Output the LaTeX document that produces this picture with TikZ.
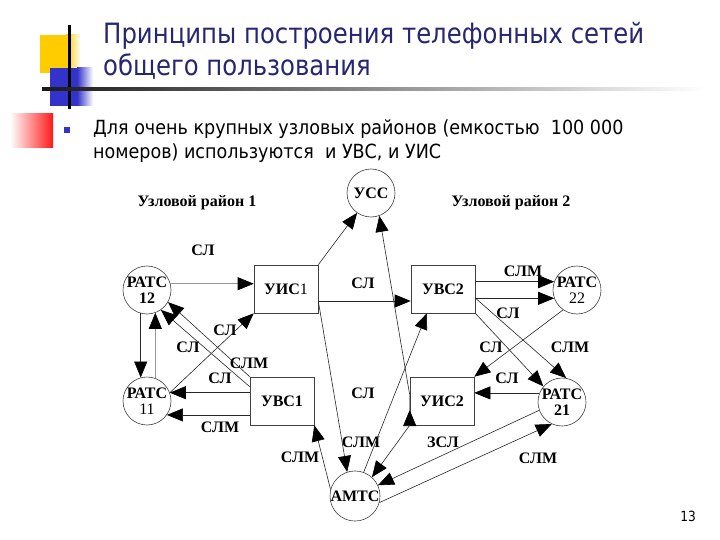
\documentclass[tikz,border=0pt]{standalone}
\usepackage{fontspec}
\setmainfont{Liberation Serif}
\newfontfamily\slidefont[FakeStretch=0.87]{DejaVu Sans}
\newfontfamily\bulletfont[FakeStretch=0.9]{DejaVu Sans}
\usetikzlibrary{calc,positioning,arrows.meta}
\definecolor{titleblue}{RGB}{38,38,115}
\definecolor{decoyellow}{RGB}{255,204,0}
\definecolor{decoblue}{RGB}{51,51,204}
\definecolor{decored}{RGB}{255,25,25}
\definecolor{linkgray}{RGB}{150,150,150}

\begin{document}
\begin{tikzpicture}[x=1pt, y=-1pt,
  stn/.style={draw=black!75, line width=0.6pt, minimum width=64pt, minimum height=48pt,
    inner sep=0pt, font=\fontsize{16}{18}\selectfont\bfseries},
  ats/.style={circle, draw=black!75, line width=0.6pt, minimum size=48pt, inner sep=0pt,
    align=center, font=\fontsize{16}{16}\selectfont\bfseries},
  lbl/.style={font=\fontsize{16}{18}\selectfont\bfseries, inner sep=0pt},
  link/.style={line width=0.6pt, draw=black!85, -{Triangle[length=16pt,width=13pt,color=black]}},
  faint/.style={link, draw=linkgray},
]
\useasboundingbox (0,0) rectangle (720,540);

% slide decoration
\fill[decoyellow] (40,35) rectangle (66,73);
\shade[left color=decoyellow, right color=decoyellow!5] (66,35) rectangle (80,73);
\fill[decoblue] (50,68) rectangle (77,106);
\shade[left color=decoblue, right color=white] (77,68) rectangle (93,106);
\shade[left color=white, right color=decored] (10,114) rectangle (53,148);
\fill[black] (67.5,25) rectangle (70.5,109);
\shade[left color=black!90, right color=white] (42,87.5) rectangle (705,90.5);

% title and bullet text
\node[anchor=base west, inner sep=0pt, text=titleblue, font=\slidefont\fontsize{28}{34}\selectfont]
  (title1) at (103,44) {Принципы построения телефонных сетей};
\node[anchor=base west, inner sep=0pt, text=titleblue, font=\slidefont\fontsize{28}{34}\selectfont]
  (title2) at (103,76) {общего пользования};
\fill[decoblue] (64,127) rectangle (70,133);
\node[anchor=base west, inner sep=0pt, font=\bulletfont\fontsize{19.5}{24}\selectfont]
  (txt1) at (93,135) {Для очень крупных узловых районов (емкостью\ \ 100 000};
\node[anchor=base west, inner sep=0pt, font=\bulletfont\fontsize{19.5}{24}\selectfont]
  (txt2) at (93,159) {номеров) используются\ \ и УВС, и УИС};
\node[anchor=base, inner sep=0pt, font=\slidefont\fontsize{14}{16}\selectfont]
  (pgnum) at (688,521) {13};

% exchanges
\node[ats] (ucc) at (371,193) {УСС};
\node[ats] (r12) at (147,290) {РАТС\\12};
\node[ats] (r11) at (147,401) {РАТС\\\textmd{11}};
\node[ats] (r22) at (577,290) {РАТС\\\textmd{22}};
\node[ats] (r21) at (562,402) {РАТС\\21};
\node[ats] (amtc) at (355,496) {АМТС};
\node[stn] (uis1) at (286,289) {УИС\textmd{1}};
\node[stn] (uvs2) at (443,289) {УВС2};
\node[stn] (uvs1) at (282,401) {УВС1};
\node[stn] (uis2) at (442,401) {УИС2};

\node[lbl] (zone1) at (197,203) {Узловой район 1};
\node[lbl] (zone2) at (511,203) {Узловой район 2};

% trunk labels
\foreach \x/\y/\t [count=\i] in {203/250/СЛ, 363/283/СЛ, 523/271/СЛМ, 508/313/СЛ,
  225/330/СЛ, 188/347/СЛ, 249/363/СЛМ, 220/378/СЛ, 491/347/СЛ, 570/347/СЛМ,
  507/378/СЛ, 363/393/СЛ, 220/427/СЛМ, 361/442/СЛМ, 443/442/ЗСЛ, 300/457/СЛМ,
  538/458/СЛМ}
  \node[lbl] (trunk\i) at (\x,\y) {\t};

% zone 1
\draw[faint] (r12.15) -- (r12.15 -| uis1.west);
\draw[link] (r12.255) -- (r11.105);
\draw[faint] (r11.70) -- (r12.290);
\draw[link] (uvs1.north west) -- (r12.-30);
\draw[link] ($(uvs1.north west)+(0,10)$) -- (r12.-55);
\draw[link] (r11.20) -- (uis1.south west);
\draw[link] (r11.20 -| uvs1.west) -- (r11.20);
\draw[link] (r11.-35 -| uvs1.west) -- (r11.-35);

% between zones
\coordinate (uis1out) at ($(uis1.east)+(0,12)$);
\draw[link] (uis1.north east) -- (ucc.235);
\draw[link] (uis1out) -- (uis1out -| uvs2.west);
\draw[link] (uis1out) -- (amtc.108);
\draw[link] ($(uis2.west)+(0,-6)$) -- (ucc.290);
\draw[faint] ($(uis2.west)+(0,9)$) -- ($(uis2.west)+(0,9)$ -| uvs1.east);

% toll exchange
\draw[link] (amtc.70) -- ($(uvs2.south west)!0.25!(uvs2.south east)$);
\draw[link] (uis2.south west) -- (amtc.48);
\draw[link] (r21.200) -- (amtc.25);
\draw[link] (amtc.-15) -- (r21.245);
\draw[link] (amtc.165) -- (uvs1.south east);

% zone 2
\draw[link] (r22.160 -| uvs2.east) -- (r22.160);
\draw[link] (r22.200 -| uvs2.east) -- (r22.200);
\draw[link] ($(uvs2.east)+(0,9)$) -- (r21.80);
\draw[link] (uvs2.south east) -- (r21.140);
\draw[link] (r22.235) -- (uis2.north east);
\draw[link] (r21.158) -- (r21.158 -| uis2.east);
\end{tikzpicture}
\end{document}
